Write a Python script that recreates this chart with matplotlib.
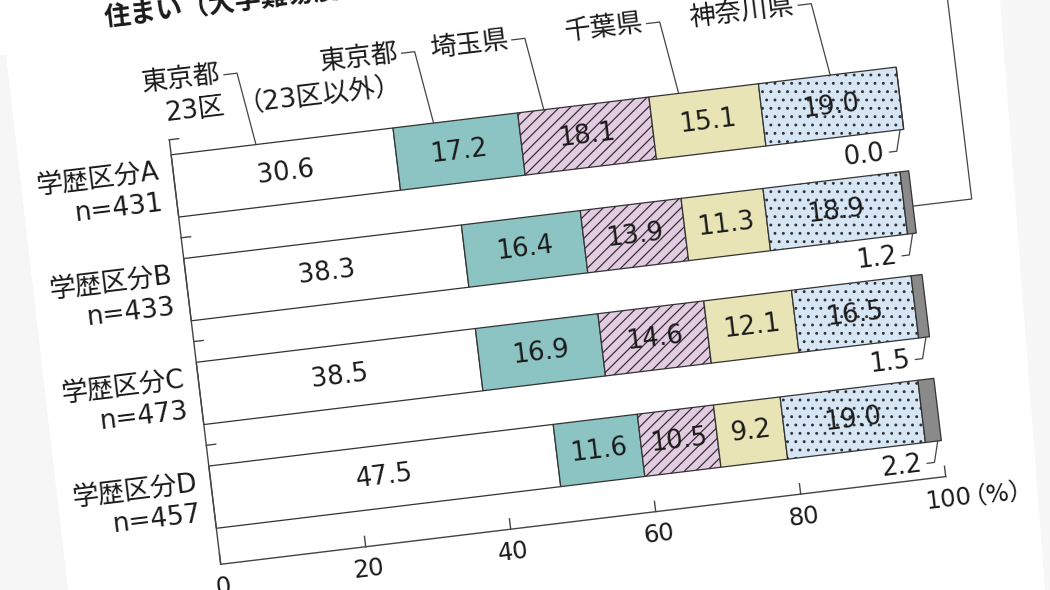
import numpy as np
import matplotlib.pyplot as plt
from matplotlib.transforms import Affine2D

# wide Latin digits like the print, Japanese from Noto CJK
plt.rcParams['font.family'] = ['DejaVu Sans', 'Noto Sans CJK JP']
plt.rcParams['hatch.linewidth'] = 0.9

# data (rows top to bottom: A, B, C, D)
groups = ['学歴区分A\nn=431', '学歴区分B\nn=433', '学歴区分C\nn=473', '学歴区分D\nn=457']
areas = ['東京都\n23区', '東京都\n（23区以外）', '埼玉県', '千葉県', '神奈川県', 'その他']
tokyo23 = [30.6, 38.3, 38.5, 47.5]
tokyo_other = [17.2, 16.4, 16.9, 11.6]
saitama = [18.1, 13.9, 14.6, 10.5]
chiba = [15.1, 11.3, 12.1, 9.2]
kanagawa = [19.0, 18.9, 16.5, 19.0]
other = [0.0, 1.2, 1.5, 2.2]
xticks = [0, 20, 40, 60, 80, 100]
title = '住まい（大学難易度別）'

series = [tokyo23, tokyo_other, saitama, chiba, kanagawa, other]
colors = ['white', '#8cc4c3', '#e3cce1', '#e8e4b6', '#d7e6f5', '#8a8a8a']
hatches = [None, None, '///', None, '..', None]

fig = plt.figure(figsize=(10.5, 5.9), dpi=100)
ax = fig.add_axes([0, 0, 1, 1])
ax.set_xlim(0, 1050)
ax.set_ylim(590, 0)
ax.axis('off')

# faint paper edges of the photo
ax.fill([0, 6, 68, 0], [55, 55, 590, 590], color='#f6f6f6', zorder=0, lw=0)
ax.fill([1000, 1050, 1050, 1045], [0, 0, 590, 590], color='#f7f7f7', zorder=0, lw=0)

# the printed chart is photographed slightly tilted: x in %, y in rows
ANG = 6.9
K0 = -0.647
tilt = (Affine2D().translate(0, -K0).scale(7.303, 104.5)
        .rotate_deg(ANG).scale(1, -1).translate(220.7, 564.3))
T = tilt + ax.transData

FS = 19
INK = '#1a1a1a'
LINE = '#444444'
tk = dict(transform=T, rotation=ANG, rotation_mode='anchor', color=INK)

rows = np.arange(len(groups))[::-1]
left = np.zeros(len(groups))
for i, (vals, c, h) in enumerate(zip(series, colors, hatches)):
    vals = np.array(vals)
    ax.barh(rows, vals, left=left, height=0.6, color=c, edgecolor='#333333',
            linewidth=0.9, hatch=h, transform=T, zorder=2)
    if i < len(series) - 1:
        for r, v, l in zip(rows, vals, left):
            ax.text(l + v / 2, r, f'{v:.1f}', ha='center', va='center', zorder=3,
                    fontsize=18.5, **tk)
    left = left + vals

# small values of the last group with bracket leaders below the bars
for r, v, end in zip(rows, other, left):
    ax.plot([end - 2.3, end - 1.3, end - 0.5], [r - 0.5, r - 0.5, r - 0.3],
            color=LINE, lw=0.9, transform=T)
    ax.text(end - 3.0, r - 0.5, f'{v:.1f}', ha='right', va='center', fontsize=18.5, **tk)

# category labels above the first bar, first line level with the leader tick
label_x = [10.3, 34.8, 50.0, 68.6, 89.5]
for name, lx in zip(areas[:-1], label_x):
    ax.plot([lx - 1.8, lx, lx + 1.4], [4.0, 4.0, 3.3], color=LINE, lw=0.9, transform=T)
    ky = 4.0 - 0.148 * name.count('\n')
    ax.text(lx - 2.3, ky, name, ha='right', va='center', multialignment='right',
            linespacing=1.3, fontsize=FS, **tk)
ax.plot([106.3, 108.1, 108.1, 100.0], [4.1, 4.1, 1.96, 1.96], color=LINE, lw=0.9, transform=T)
ax.text(105.8, 4.1, areas[-1], ha='right', va='center', fontsize=FS, **tk)

# group labels
for r, g in zip(rows, groups):
    ax.text(-1.9, r, g, ha='right', va='center', multialignment='right',
            linespacing=1.3, fontsize=FS, **tk)

# axes
top = 3.445
ax.plot([0, 0, 100], [top, K0, K0], color=LINE, lw=1.0, transform=T)
ax.plot([0, 1.3], [top, top], color=LINE, lw=1.0, transform=T)
for k in rows[1:] + 0.5:
    ax.plot([0, 1.3], [k, k], color=LINE, lw=1.0, transform=T)
for x in xticks:
    ax.plot([x, x], [K0, K0 + 0.1], color=LINE, lw=1.0, transform=T)
    ax.text(x, K0 - 0.22, str(x), ha='center', va='center', fontsize=17.5, **tk)
ax.text(101.9, K0 - 0.22, '（%）', ha='left', va='center', fontsize=17.5, **tk)

ax.text(-6.8, 4.66, title, ha='left', va='center', fontweight='bold', fontsize=FS, **tk)

fig.savefig('out.png', dpi=100, facecolor='white')
